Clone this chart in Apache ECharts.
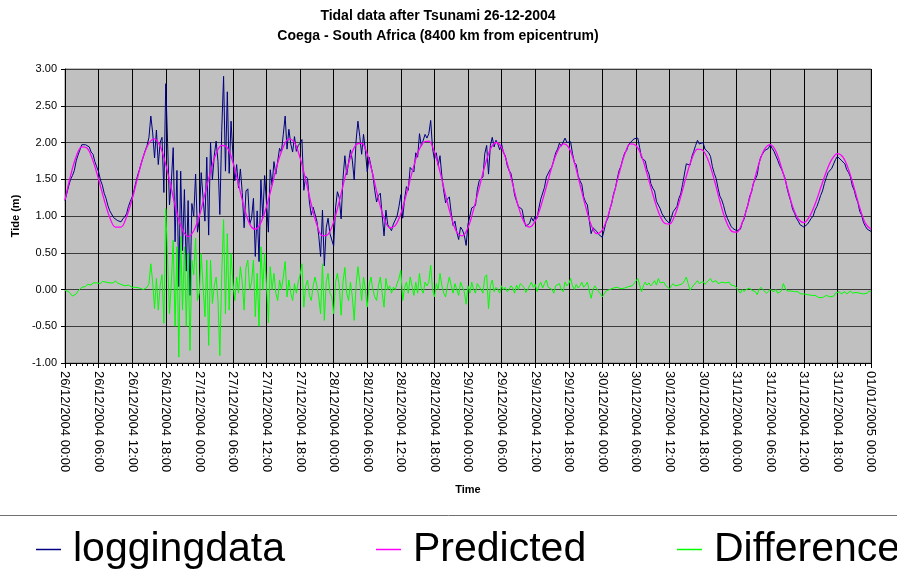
<!DOCTYPE html>
<html>
<head>
<meta charset="utf-8">
<title>Tidal data after Tsunami 26-12-2004</title>
<script src="https://cdn.jsdelivr.net/npm/echarts@6/dist/echarts.min.js"></script>
<style>
	html, body { margin: 0; padding: 0; background: #fff; }
	#tide-chart { width: 897px; height: 573px; }
</style>
</head>
<body>
<div id="tide-chart"></div>
<script>
//x轴刻度 (每6小时一个)
var xTickLabels = [
	'26/12/2004 00:00', '26/12/2004 06:00', '26/12/2004 12:00', '26/12/2004 18:00',
	'27/12/2004 00:00', '27/12/2004 06:00', '27/12/2004 12:00', '27/12/2004 18:00',
	'28/12/2004 00:00', '28/12/2004 06:00', '28/12/2004 12:00', '28/12/2004 18:00',
	'29/12/2004 00:00', '29/12/2004 06:00', '29/12/2004 12:00', '29/12/2004 18:00',
	'30/12/2004 00:00', '30/12/2004 06:00', '30/12/2004 12:00', '30/12/2004 18:00',
	'31/12/2004 00:00', '31/12/2004 06:00', '31/12/2004 12:00', '31/12/2004 18:00',
	'01/01/2005 00:00'
];
var tickStepH = 6;

//实测潮位, 每20分钟一个点 (小时 = 序号/3)
var logStepH = 1 / 3;
var loggingData = [
	1.21, 1.31, 1.41, 1.50, 1.55, 1.62, 1.75, 1.83, 1.90, 1.97, 1.98, 1.97, 1.99, 1.94, 1.87, 1.84, 1.74, 1.67, // 26/12 00
	1.60, 1.49, 1.42, 1.31, 1.24, 1.14, 1.07, 1.05, 0.98, 0.97, 0.94, 0.93, 0.92, 0.96, 0.99, 1.03, 1.13, 1.20, // 26/12 06
	1.26, 1.35, 1.46, 1.56, 1.64, 1.73, 1.81, 1.89, 1.96, 2.07, 2.36, 2.13, 1.79, 2.17, 1.70, 2.00, 2.07, 1.32, // 26/12 12
	2.80, 1.99, 1.15, 1.47, 1.93, 0.65, 1.62, 0.04, 1.61, 0.53, 1.36, 0.25, 1.21, -0.08, 1.17, 1.00, 1.57, 0.78, // 26/12 18
	0.95, 1.59, 1.25, 0.93, 1.80, 0.74, 2.00, 1.49, 1.82, 2.02, 1.74, 1.02, 2.16, 2.90, 1.61, 2.69, 1.58, 2.29, // 27/12 00
	1.83, 1.48, 1.70, 1.38, 1.64, 1.32, 0.84, 1.34, 1.37, 0.89, 0.97, 1.24, 0.45, 1.07, 0.38, 1.49, 0.98, 1.55, // 27/12 06
	1.18, 0.78, 1.63, 1.42, 1.74, 1.57, 1.57, 1.92, 1.87, 2.11, 2.36, 1.91, 2.18, 1.98, 1.87, 2.08, 1.88, 1.96, // 27/12 12
	1.99, 2.04, 1.35, 1.54, 1.51, 1.19, 1.01, 1.12, 1.14, 0.93, 0.73, 0.45, 1.08, 0.32, 0.84, 0.97, 0.76, 0.76, // 27/12 18
	0.59, 1.11, 1.33, 1.25, 0.96, 1.51, 1.82, 1.56, 1.56, 1.90, 1.76, 1.49, 2.02, 2.29, 2.08, 1.84, 2.11, 1.89, // 28/12 00
	1.60, 1.80, 1.82, 1.56, 1.35, 1.19, 1.28, 1.31, 1.01, 0.73, 1.08, 0.88, 0.89, 0.80, 0.89, 0.87, 1.00, 1.13, // 28/12 06
	1.29, 0.97, 1.23, 1.40, 1.35, 1.66, 1.64, 1.60, 1.86, 1.80, 2.12, 1.95, 1.95, 2.11, 2.06, 2.12, 2.30, 1.92, // 28/12 12
	1.77, 1.86, 1.69, 1.82, 1.54, 1.34, 1.18, 1.23, 1.26, 1.04, 0.87, 0.93, 0.78, 0.68, 0.85, 0.81, 0.74, 0.60, // 28/12 18
	0.89, 0.87, 1.11, 1.09, 1.14, 1.36, 1.48, 1.48, 1.53, 1.85, 1.96, 1.57, 1.96, 2.07, 1.94, 2.03, 1.98, 1.90, // 29/12 00
	1.98, 1.86, 1.82, 1.69, 1.62, 1.58, 1.45, 1.28, 1.29, 1.13, 1.14, 1.09, 0.95, 0.86, 0.87, 0.90, 0.98, 0.93, // 29/12 06
	1.00, 0.97, 1.11, 1.23, 1.24, 1.39, 1.53, 1.52, 1.63, 1.67, 1.69, 1.86, 1.91, 1.99, 1.95, 1.95, 2.06, 2.00, // 29/12 12
	2.01, 2.01, 1.85, 1.73, 1.70, 1.55, 1.48, 1.43, 1.26, 1.19, 1.15, 0.94, 0.76, 0.84, 0.85, 0.79, 0.75, 0.73, // 29/12 18
	0.71, 0.81, 0.92, 0.97, 1.09, 1.17, 1.30, 1.38, 1.51, 1.62, 1.68, 1.78, 1.86, 1.89, 1.97, 2.00, 2.02, 2.05, // 30/12 00
	2.03, 2.06, 1.93, 1.79, 1.79, 1.75, 1.63, 1.57, 1.44, 1.38, 1.34, 1.20, 1.21, 1.10, 1.03, 1.01, 0.95, 0.94, // 30/12 06
	0.90, 0.98, 1.06, 1.07, 1.13, 1.24, 1.30, 1.43, 1.57, 1.71, 1.70, 1.69, 1.81, 1.88, 1.96, 2.03, 1.98, 2.00, // 30/12 12
	2.00, 1.91, 1.89, 1.86, 1.81, 1.67, 1.58, 1.51, 1.38, 1.27, 1.22, 1.14, 1.04, 0.97, 0.95, 0.86, 0.83, 0.84, // 30/12 18
	0.80, 0.80, 0.82, 0.91, 0.96, 1.07, 1.15, 1.27, 1.33, 1.45, 1.50, 1.56, 1.72, 1.81, 1.85, 1.89, 1.88, 1.92, // 31/12 00
	1.97, 1.92, 1.88, 1.88, 1.76, 1.69, 1.64, 1.65, 1.51, 1.38, 1.28, 1.20, 1.09, 1.04, 0.97, 0.93, 0.88, 0.89, // 31/12 06
	0.85, 0.86, 0.89, 0.90, 0.97, 1.00, 1.08, 1.13, 1.20, 1.28, 1.34, 1.44, 1.52, 1.59, 1.61, 1.65, 1.71, 1.77, // 31/12 12
	1.81, 1.80, 1.76, 1.75, 1.71, 1.63, 1.59, 1.53, 1.41, 1.35, 1.25, 1.18, 1.06, 1.01, 0.91, 0.86, 0.82, 0.83, // 31/12 18
	0.79
];

//预报潮位, 每小时一个点
var predStepH = 1;
var predictedData = [
	1.22, 1.55, 1.81, 1.94, 1.92, 1.75, 1.50, 1.22, 0.98, 0.85, 0.85, 0.99, 1.23, 1.53, 1.81, 1.99, 2.05, 1.95, 1.70, 1.37, 1.04, 0.81, 0.72, 0.80,
	1.00, 1.30, 1.60, 1.85, 1.96, 1.93, 1.73, 1.43, 1.12, 0.89, 0.82, 0.91, 1.13, 1.42, 1.72, 1.94, 2.05, 2.00, 1.79, 1.49, 1.16, 0.88, 0.73, 0.75,
	0.92, 1.20, 1.52, 1.80, 1.97, 1.99, 1.84, 1.56, 1.23, 0.97, 0.84, 0.87, 1.03, 1.30, 1.59, 1.85, 2.00, 2.02, 1.87, 1.60, 1.28, 0.99, 0.78, 0.73,
	0.84, 1.09, 1.38, 1.68, 1.91, 2.00, 1.93, 1.72, 1.43, 1.13, 0.92, 0.85, 0.93, 1.13, 1.40, 1.67, 1.88, 1.98, 1.93, 1.73, 1.43, 1.13, 0.88, 0.76,
	0.81, 1.00, 1.28, 1.58, 1.84, 1.98, 1.96, 1.82, 1.57, 1.30, 1.06, 0.91, 0.89, 1.02, 1.26, 1.54, 1.78, 1.91, 1.89, 1.74, 1.49, 1.20, 0.95, 0.80,
	0.78, 0.91, 1.15, 1.44, 1.72, 1.91, 1.97, 1.88, 1.66, 1.40, 1.13, 0.96, 0.91, 0.99, 1.16, 1.38, 1.60, 1.77, 1.85, 1.80, 1.63, 1.38, 1.11, 0.90,
	0.82
];

//差值, 每20分钟一个点
var differenceData = [
	-0.01, -0.02, -0.03, -0.05, -0.09, -0.10, -0.06, -0.02, 0.00, 0.03, 0.05, 0.04, 0.07, 0.08, 0.06, 0.09, 0.07, 0.09, // 26/12 00
	0.10, 0.08, 0.11, 0.09, 0.10, 0.08, 0.09, 0.11, 0.09, 0.12, 0.09, 0.08, 0.07, 0.06, 0.05, 0.04, 0.06, 0.05, // 26/12 06
	0.03, 0.02, 0.03, 0.03, 0.02, 0.01, 0.00, 0.02, 0.03, 0.08, 0.35, 0.10, -0.26, 0.15, -0.28, 0.05, 0.20, -0.46, // 26/12 12
	1.10, 0.40, -0.33, 0.10, 0.67, -0.50, 0.58, -0.92, 0.72, -0.28, 0.58, -0.50, 0.49, -0.83, 0.40, 0.20, 0.70, -0.15, // 26/12 18
	-0.05, 0.49, 0.05, -0.37, 0.40, -0.76, 0.40, -0.19, 0.05, 0.17, -0.15, -0.90, 0.20, 0.95, -0.33, 0.76, -0.28, 0.49, // 27/12 00
	0.10, -0.15, 0.17, -0.05, 0.31, 0.10, -0.28, 0.30, 0.40, 0.00, 0.10, 0.40, -0.37, 0.22, -0.50, 0.58, 0.00, 0.49, // 27/12 06
	0.05, -0.45, 0.31, 0.00, 0.22, -0.05, -0.15, 0.13, 0.00, 0.17, 0.38, -0.10, 0.13, -0.05, -0.15, 0.08, -0.05, 0.10, // 27/12 12
	0.20, 0.35, -0.24, 0.05, 0.13, -0.08, -0.15, 0.05, 0.17, 0.05, -0.10, -0.33, 0.35, -0.42, 0.10, 0.22, -0.05, -0.10, // 27/12 18
	-0.33, 0.10, 0.22, 0.05, -0.35, 0.10, 0.30, -0.05, -0.15, 0.10, -0.10, -0.42, 0.05, 0.31, 0.10, -0.15, 0.17, 0.00, // 28/12 00
	-0.24, 0.05, 0.17, 0.00, -0.10, -0.15, 0.05, 0.17, -0.05, -0.24, 0.15, 0.00, 0.05, -0.05, 0.03, 0.00, 0.08, 0.15, // 28/12 06
	0.26, -0.15, 0.02, 0.10, -0.05, 0.17, 0.05, -0.08, 0.10, -0.05, 0.22, 0.00, -0.05, 0.10, 0.05, 0.10, 0.33, 0.00, // 28/12 12
	-0.10, 0.08, 0.00, 0.22, 0.05, -0.05, -0.10, 0.05, 0.17, 0.05, -0.05, 0.08, 0.00, -0.08, 0.10, 0.08, -0.03, -0.20, // 28/12 18
	0.05, -0.05, 0.10, 0.00, -0.05, 0.08, 0.10, 0.00, -0.05, 0.17, 0.20, -0.26, 0.05, 0.13, -0.03, 0.03, 0.00, -0.05, // 29/12 00
	0.05, 0.00, 0.03, -0.03, 0.00, 0.05, 0.02, -0.05, 0.06, 0.00, 0.08, 0.10, 0.03, -0.04, 0.00, 0.05, 0.10, 0.03, // 29/12 06
	0.07, -0.03, 0.05, 0.10, 0.02, 0.08, 0.13, 0.03, 0.05, 0.00, -0.05, 0.05, 0.03, 0.08, 0.00, -0.03, 0.10, 0.05, // 29/12 12
	0.08, 0.15, 0.05, 0.00, 0.07, 0.02, 0.05, 0.10, 0.03, 0.06, 0.10, -0.02, -0.12, 0.00, 0.05, 0.03, -0.03, -0.06, // 29/12 18
	-0.10, -0.06, -0.02, -0.03, 0.00, -0.02, 0.02, 0.00, 0.03, 0.04, 0.01, 0.03, 0.02, 0.00, 0.04, 0.02, 0.05, 0.08, // 30/12 00
	0.07, 0.15, 0.06, -0.03, 0.05, 0.10, 0.06, 0.09, 0.05, 0.08, 0.12, 0.06, 0.15, 0.09, 0.07, 0.10, 0.05, 0.04, // 30/12 06
	0.01, 0.05, 0.08, 0.05, 0.03, 0.06, 0.04, 0.08, 0.12, 0.17, 0.08, -0.01, 0.03, 0.06, 0.09, 0.12, 0.08, 0.10, // 30/12 12
	0.11, 0.07, 0.10, 0.12, 0.15, 0.10, 0.09, 0.12, 0.08, 0.07, 0.10, 0.11, 0.09, 0.07, 0.10, 0.06, 0.04, 0.05, // 30/12 18
	0.02, -0.02, -0.05, 0.00, -0.03, 0.00, 0.00, 0.02, -0.01, 0.01, -0.03, -0.07, 0.00, 0.03, 0.00, -0.02, -0.05, -0.03, // 31/12 00
	0.00, -0.02, -0.03, 0.00, -0.05, -0.04, -0.02, 0.08, 0.02, -0.02, -0.03, -0.02, -0.04, -0.03, -0.05, -0.03, -0.06, -0.04, // 31/12 06
	-0.06, -0.08, -0.07, -0.09, -0.08, -0.10, -0.08, -0.10, -0.11, -0.10, -0.11, -0.09, -0.08, -0.07, -0.10, -0.12, -0.09, -0.05, // 31/12 12
	-0.04, -0.03, -0.06, -0.05, -0.03, -0.06, -0.04, -0.02, -0.05, -0.03, -0.04, -0.02, -0.05, -0.03, -0.06, -0.04, -0.05, -0.02, // 31/12 18
	-0.03
];

var seriesNames = ['loggingdata', 'Predicted', 'Difference'];
var seriesColors = ['#000080', '#ff00ff', '#00ff00'];

var fontMain = "'Liberation Sans', Arial, sans-serif";

//把数值数组转换为 [小时, 值]
var toPairs = function(vals, step) {
	var out = [];
	for(var i = 0; i < vals.length; i++) {
		out.push([i * step, vals[i]]);
	}
	return out;
};

//图例 (每项单独定位)
var legendItem = function(name, left) {
	return {
		data: [name],
		left: left,
		top: 529,
		icon: 'rect',
		itemWidth: 25,
		itemHeight: 1.5,
		itemGap: 0,
		padding: 0,
		selectedMode: false,
		textStyle: {
			fontFamily: fontMain,
			fontSize: 41,
			color: '#000',
			padding: [0, 0, 0, 7]
		}
	};
};

var tideChart = echarts.init(document.getElementById('tide-chart'), null, {
	renderer: 'canvas'
});

var tideOption = {
	animation: false,
	backgroundColor: '#ffffff',
	color: seriesColors,
	title: {
		text: 'Tidal data after Tsunami 26-12-2004\nCoega - South Africa (8400 km from epicentrum)',
		left: 438,
		textAlign: 'center',
		top: 6,
		padding: 0,
		textStyle: {
			fontFamily: fontMain,
			fontSize: 14,
			fontWeight: 'bold',
			color: '#000',
			lineHeight: 20
		}
	},
	legend: [
		legendItem(seriesNames[0], 36),
		legendItem(seriesNames[1], 376),
		legendItem(seriesNames[2], 677)
	],
	graphic: [{
		type: 'line',
		shape: { x1: 0, y1: 515.5, x2: 897, y2: 515.5 },
		style: { stroke: '#707070', lineWidth: 1 },
		silent: true
	}],
	grid: {
		left: 65,
		right: 26,
		top: 69,
		bottom: 210,
		show: true,
		backgroundColor: '#c0c0c0',
		borderColor: '#808080',
		borderWidth: 1
	},
	xAxis: {
		type: 'value',
		min: 0,
		max: tickStepH * (xTickLabels.length - 1),
		interval: tickStepH,
		name: 'Time',
		nameLocation: 'middle',
		nameGap: 121,
		nameTextStyle: {
			fontFamily: fontMain,
			fontSize: 11,
			fontWeight: 'bold',
			color: '#000'
		},
		axisLine: { show: true, onZero: false, lineStyle: { color: '#000', width: 1 } },
		axisTick: { show: true, length: 5, lineStyle: { color: '#000' } },
		minorTick: { show: true, splitNumber: 6, length: 3, lineStyle: { color: '#000' } },
		splitLine: { show: true, lineStyle: { color: '#000', width: 1 } },
		axisLabel: {
			rotate: -90,
			margin: 8,
			fontFamily: fontMain,
			fontSize: 13,
			color: '#000',
			showMinLabel: true,
			showMaxLabel: true,
			formatter: function(v) {
				return xTickLabels[Math.round(v / tickStepH)] || '';
			}
		}
	},
	yAxis: {
		type: 'value',
		min: -1,
		max: 3,
		interval: 0.5,
		name: 'Tide (m)',
		nameLocation: 'middle',
		nameGap: 38,
		nameRotate: 90,
		nameTextStyle: {
			fontFamily: fontMain,
			fontSize: 11,
			fontWeight: 'bold',
			color: '#000'
		},
		axisLine: { show: true, lineStyle: { color: '#000', width: 1 } },
		axisTick: { show: true, length: 4, lineStyle: { color: '#000' } },
		splitLine: { show: true, lineStyle: { color: '#3c3c3c', width: 1 } },
		axisLabel: {
			margin: 8,
			fontFamily: fontMain,
			fontSize: 11,
			color: '#000',
			formatter: function(v) {
				return v.toFixed(2);
			}
		}
	},
	series: [{
		name: seriesNames[0],
		type: 'line',
		data: toPairs(loggingData, logStepH),
		showSymbol: false,
		symbol: 'none',
		lineStyle: { color: seriesColors[0], width: 1 },
		itemStyle: { color: seriesColors[0] },
		z: 2
	}, {
		name: seriesNames[1],
		type: 'line',
		data: toPairs(predictedData, predStepH),
		showSymbol: false,
		symbol: 'none',
		smooth: 0.35,
		lineStyle: { color: seriesColors[1], width: 1.3 },
		itemStyle: { color: seriesColors[1] },
		z: 3
	}, {
		name: seriesNames[2],
		type: 'line',
		data: toPairs(differenceData, logStepH),
		showSymbol: false,
		symbol: 'none',
		lineStyle: { color: seriesColors[2], width: 1 },
		itemStyle: { color: seriesColors[2] },
		z: 2
	}]
};

tideChart.setOption(tideOption);
</script>
</body>
</html>
